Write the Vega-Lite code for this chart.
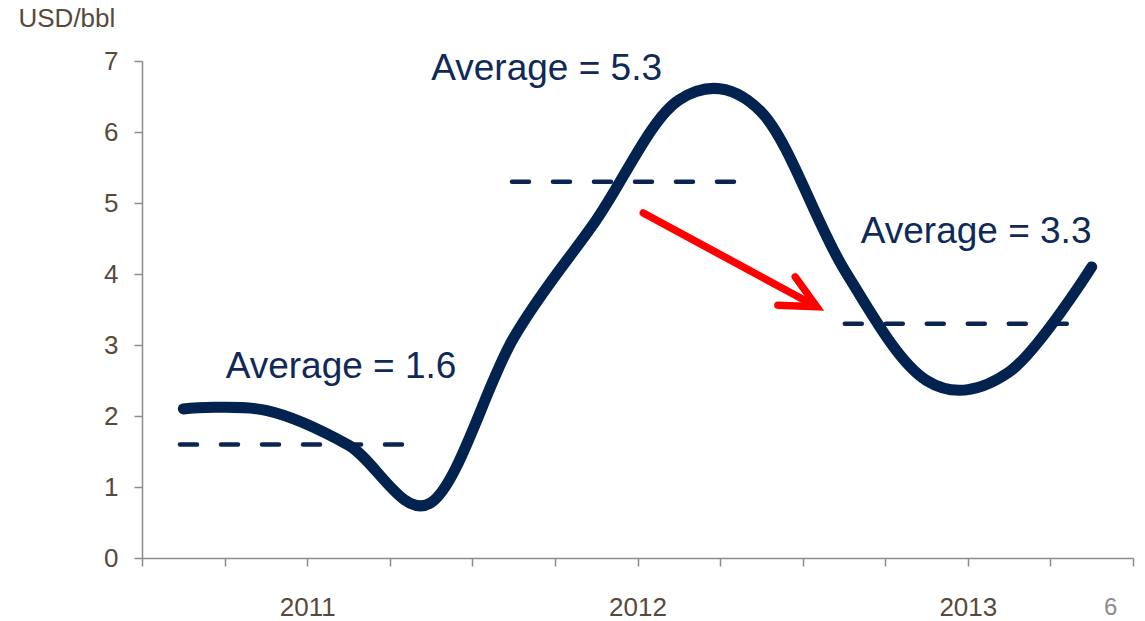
{
  "$schema": "https://vega.github.io/schema/vega-lite/v6.json",
  "autosize": {"type": "none"},
  "padding": {"left": 142, "top": 61, "right": 12, "bottom": 63},
  "width": 991,
  "height": 497,
  "background": "white",
  "config": {
    "view": {"stroke": null},
    "font": "Liberation Sans",
    "axis": {"labelFont": "Liberation Sans", "titleFont": "Liberation Sans"}
  },
  "datasets": {
    "price": [
      {"quarter": "2011 Q1", "q": 0.5, "usd": 2.10},
      {"quarter": "2011 Q2", "q": 1.5, "usd": 2.08},
      {"quarter": "2011 Q3", "q": 2.5, "usd": 1.59},
      {"quarter": "2011 Q4", "q": 3.5, "usd": 0.78},
      {"quarter": "2012 Q1", "q": 4.5, "usd": 3.10},
      {"quarter": "2012 Q2", "q": 5.5, "usd": 4.76},
      {"quarter": "2012 Q3", "q": 6.5, "usd": 6.45},
      {"quarter": "2012 Q4", "q": 7.5, "usd": 6.28},
      {"quarter": "2013 Q1", "q": 8.5, "usd": 4.07},
      {"quarter": "2013 Q2", "q": 9.5, "usd": 2.50},
      {"quarter": "2013 Q3", "q": 10.5, "usd": 2.62},
      {"quarter": "2013 Q4", "q": 11.5, "usd": 4.10}
    ],
    "averages": [
      {"year": "2011", "avg": 1.6, "start": 0.46, "end": 3.24, "label": "Average = 1.6", "lx": 2.41, "ly": 2.54},
      {"year": "2012", "avg": 5.3, "start": 4.48, "end": 7.26, "label": "Average = 5.3", "lx": 4.90, "ly": 6.73},
      {"year": "2013", "avg": 3.3, "start": 8.51, "end": 11.30, "label": "Average = 3.3", "lx": 10.10, "ly": 4.44}
    ],
    "arrowShaft": [
      {"x": 6.07, "y": 4.86, "x2": 8.12, "y2": 3.57}
    ],
    "arrowHead": [
      {"o": 1, "x": 7.70, "y": 3.56},
      {"o": 2, "x": 8.17, "y": 3.54},
      {"o": 3, "x": 7.91, "y": 3.96}
    ],
    "page": [
      {"x": 11.73, "y": -0.80, "text": "6"}
    ]
  },
  "layer": [
    {
      "data": {"name": "averages"},
      "mark": {"type": "rule", "color": "#0B2550", "strokeWidth": 4.5, "strokeDash": [17, 24], "strokeCap": "round"},
      "encoding": {
        "x": {"field": "start", "type": "quantitative", "scale": {"domain": [0, 12], "nice": false, "zero": false},
          "axis": {
            "values": [0, 1, 2, 3, 4, 5, 6, 7, 8, 9, 10, 11, 12],
            "labelExpr": "datum.value == 2 ? '2011' : datum.value == 6 ? '2012' : datum.value == 10 ? '2013' : ''",
            "title": null,
            "grid": false,
            "domainColor": "#8C8C8C",
            "domainWidth": 1.5,
            "tickColor": "#8C8C8C",
            "tickWidth": 1.5,
            "tickSize": 8,
            "labelFontSize": 26,
            "labelColor": "#584A3B",
            "labelPadding": 28,
            "labelOverlap": false,
            "labelFlush": false
          }
        },
        "x2": {"field": "end"},
        "y": {"field": "avg", "type": "quantitative", "scale": {"domain": [0, 7], "nice": false},
          "axis": {
            "values": [0, 1, 2, 3, 4, 5, 6, 7],
            "format": "d",
            "title": "USD/bbl",
            "titleAngle": 0,
            "titleAlign": "left",
            "titleBaseline": "top",
            "titleX": -124,
            "titleY": -56,
            "titleFontSize": 26,
            "titleFontWeight": "normal",
            "titleColor": "#584A3B",
            "grid": false,
            "domainColor": "#8C8C8C",
            "domainWidth": 1.5,
            "tickColor": "#8C8C8C",
            "tickWidth": 1.5,
            "tickSize": 8,
            "labelFontSize": 26,
            "labelColor": "#584A3B",
            "labelPadding": 16
          }
        }
      }
    },
    {
      "data": {"name": "price"},
      "mark": {"type": "line", "interpolate": "cardinal", "tension": 0, "color": "#02234F", "strokeWidth": 11, "strokeCap": "round", "strokeJoin": "round"},
      "encoding": {
        "x": {"field": "q", "type": "quantitative"},
        "y": {"field": "usd", "type": "quantitative"}
      }
    },
    {
      "data": {"name": "averages"},
      "mark": {"type": "text", "fontSize": 37, "color": "#0F2A56", "align": "center", "baseline": "alphabetic"},
      "encoding": {
        "x": {"field": "lx", "type": "quantitative"},
        "y": {"field": "ly", "type": "quantitative"},
        "text": {"field": "label"}
      }
    },
    {
      "data": {"name": "arrowShaft"},
      "mark": {"type": "rule", "color": "#FF0000", "strokeWidth": 7.5, "strokeCap": "round"},
      "encoding": {
        "x": {"field": "x", "type": "quantitative"},
        "y": {"field": "y", "type": "quantitative"},
        "x2": {"field": "x2"},
        "y2": {"field": "y2"}
      }
    },
    {
      "data": {"name": "arrowHead"},
      "mark": {"type": "line", "color": "#FF0000", "strokeWidth": 7.5, "strokeCap": "round", "strokeJoin": "miter", "strokeMiterLimit": 10},
      "encoding": {
        "x": {"field": "x", "type": "quantitative"},
        "y": {"field": "y", "type": "quantitative"},
        "order": {"field": "o"}
      }
    },
    {
      "data": {"name": "page"},
      "mark": {"type": "text", "fontSize": 24, "color": "#8C8C8C", "align": "center", "baseline": "alphabetic"},
      "encoding": {
        "x": {"field": "x", "type": "quantitative"},
        "y": {"field": "y", "type": "quantitative"},
        "text": {"field": "text"}
      }
    }
  ]
}
